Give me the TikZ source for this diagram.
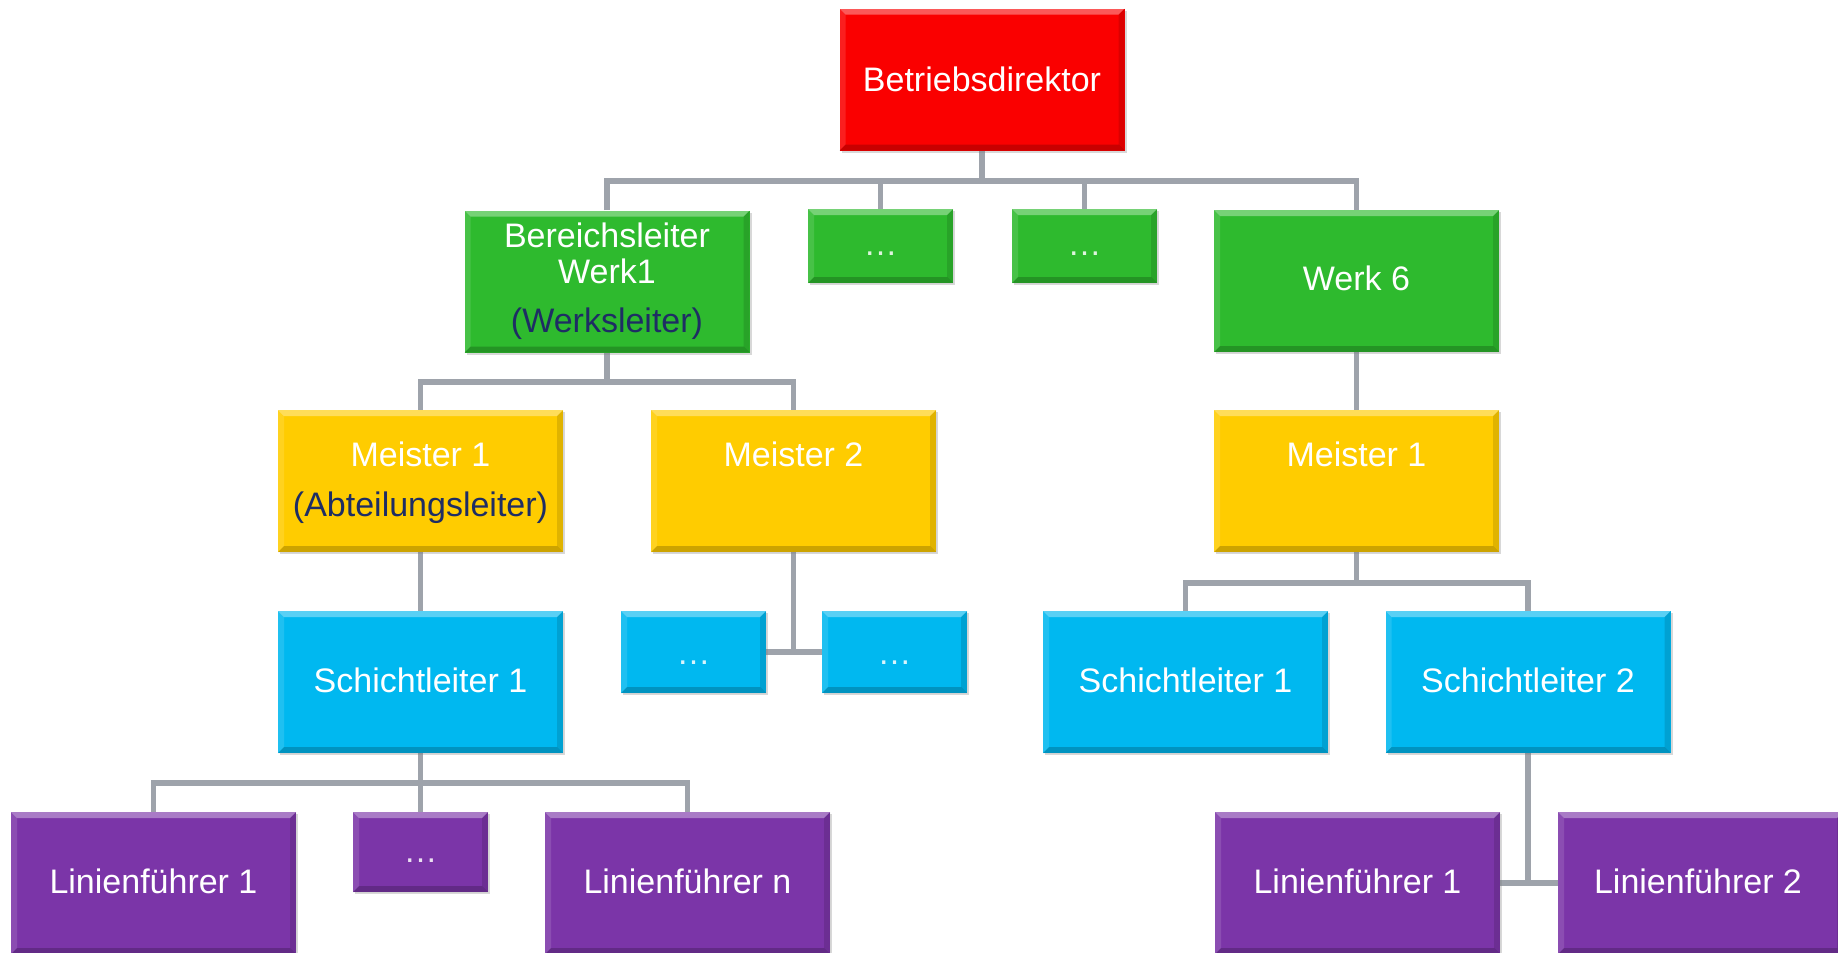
\documentclass[tikz,border=0pt]{standalone}
\usepackage{fontspec}
\setmainfont{Liberation Sans}
\usetikzlibrary{backgrounds,shadows}
\definecolor{cred}{RGB}{250,0,0}
\definecolor{cgreen}{RGB}{46,186,46}
\definecolor{cyellow}{RGB}{255,204,0}
\definecolor{cblue}{RGB}{0,184,240}
\definecolor{cpurple}{RGB}{123,53,168}
\definecolor{cnavy}{RGB}{30,45,100}
\definecolor{cline}{RGB}{158,163,171}
\newcommand\bevelbox{%
  \fill[white,opacity=0.35] (path picture bounding box.north west) -- (path picture bounding box.north east)
     -- ([shift={(-3pt,-3pt)}]path picture bounding box.north east) -- ([shift={(3pt,-3pt)}]path picture bounding box.north west) -- cycle;
  \fill[white,opacity=0.12] (path picture bounding box.north west) -- (path picture bounding box.south west)
     -- ([shift={(3pt,3pt)}]path picture bounding box.south west) -- ([shift={(3pt,-3pt)}]path picture bounding box.north west) -- cycle;
  \fill[black,opacity=0.12] (path picture bounding box.north east) -- (path picture bounding box.south east)
     -- ([shift={(-3pt,3pt)}]path picture bounding box.south east) -- ([shift={(-3pt,-3pt)}]path picture bounding box.north east) -- cycle;
  \fill[black,opacity=0.2] (path picture bounding box.south west) -- (path picture bounding box.south east)
     -- ([shift={(-3pt,3pt)}]path picture bounding box.south east) -- ([shift={(3pt,3pt)}]path picture bounding box.south west) -- cycle;
}
\tikzset{
  box/.style={fill=#1, draw=none, inner sep=0pt, minimum width=142.5pt, minimum height=71pt,
    drop shadow={shadow xshift=1pt, shadow yshift=-1.2pt, opacity=0.3}, path picture={\bevelbox}},
  gsmall/.style={minimum width=72.5pt, minimum height=37pt},
  bsmall/.style={minimum width=72.5pt, minimum height=41pt},
  psmall/.style={minimum width=67.5pt, minimum height=40pt},
  txt/.style={text=white, font=\fontsize{17}{20}\selectfont, inner sep=0pt, anchor=base},
  dots/.style={txt, text opacity=0.85},
  conn/.style={draw=cline, line width=2.8pt}
}
\begin{document}
\begin{tikzpicture}[x=0.5pt,y=-0.5pt]
\path[use as bounding box] (0,0) rectangle (1838,953);
% boxes
\node[box=cred] (bd) at (982,79.5) {};
\node[box=cgreen] (bl) at (607,281.5) {};
\node[box=cgreen, gsmall] (g1) at (880.5,246) {};
\node[box=cgreen, gsmall] (g2) at (1084.5,246) {};
\node[box=cgreen] (w6) at (1356.5,281) {};
\node[box=cyellow] (m1) at (420.5,481) {};
\node[box=cyellow] (m2) at (793.5,481) {};
\node[box=cyellow] (m1r) at (1356.5,481) {};
\node[box=cblue] (s1) at (420.5,682) {};
\node[box=cblue, bsmall] (b1) at (693.5,652) {};
\node[box=cblue, bsmall] (b2) at (894.5,652) {};
\node[box=cblue] (s1r) at (1185.5,682) {};
\node[box=cblue] (s2r) at (1528,682) {};
\node[box=cpurple] (l1) at (153.5,883) {};
\node[box=cpurple, psmall] (ld) at (420.5,852) {};
\node[box=cpurple] (ln) at (687.5,883) {};
\node[box=cpurple] (l1r) at (1357.5,883) {};
\node[box=cpurple] (l2r) at (1700.5,883) {};
% texts
\node[txt] (t-bd) at (982,91) {Betriebsdirektor};
\node[txt] (t-bl1) at (607,247) {Bereichsleiter};
\node[txt] (t-bl2) at (607,283) {Werk1};
\node[txt, text=cnavy] (t-bl3) at (607,332) {(Werksleiter)};
\node[dots] (t-g1) at (880.5,255) {…};
\node[dots] (t-g2) at (1084.5,255) {…};
\node[txt] (t-w6) at (1356.5,290) {Werk 6};
\node[txt] (t-m1) at (420.5,466) {Meister 1};
\node[txt, text=cnavy] (t-m1b) at (420.5,516) {(Abteilungsleiter)};
\node[txt] (t-m2) at (793.5,466) {Meister 2};
\node[txt] (t-m1r) at (1356.5,466) {Meister 1};
\node[txt] (t-s1) at (420.5,692) {Schichtleiter 1};
\node[dots] (t-b1) at (693.5,664) {…};
\node[dots] (t-b2) at (894.5,664) {…};
\node[txt] (t-s1r) at (1185.5,692) {Schichtleiter 1};
\node[txt] (t-s2r) at (1528,692) {Schichtleiter 2};
\node[txt] (t-l1) at (153.5,893) {Linienführer 1};
\node[dots] (t-ld) at (420.5,862) {…};
\node[txt] (t-ln) at (687.5,893) {Linienführer n};
\node[txt] (t-l1r) at (1357.5,893) {Linienführer 1};
\node[txt] (t-l2r) at (1698,893) {Linienführer 2};
% connectors
\coordinate (busA) at (982,181);
\coordinate (busB) at (607,382);
\coordinate (busC) at (793.5,652);
\coordinate (busD) at (1356.5,583);
\coordinate (busE) at (420.5,783);
\coordinate (busF) at (1528,883);
\begin{scope}[on background layer]
\fill[white] (0,0) rectangle (1838,953);
\draw[conn] (bd.south) -- (busA);
\draw[conn] (bl.north) |- (busA) -| (w6.north);
\draw[conn] (g1.north) -- (g1.north |- busA);
\draw[conn] (g2.north) -- (g2.north |- busA);
\draw[conn] (bl.south) -- (busB);
\draw[conn] (m1.north) |- (busB) -| (m2.north);
\draw[conn] (m1.south) -- (s1.north);
\draw[conn] (m2.south) -- (busC);
\draw[conn] (b1.east) -- (b2.west);
\draw[conn] (w6.south) -- (m1r.north);
\draw[conn] (m1r.south) -- (busD);
\draw[conn] (s1r.north) |- (busD) -| (s2r.north);
\draw[conn] (s1.south) -- (busE);
\draw[conn] (l1.north) |- (busE) -| (ln.north);
\draw[conn] (ld.north) -- (busE);
\draw[conn] (s2r.south) -- (busF);
\draw[conn] (l1r.east) -- (l2r.west);
\end{scope}
\end{tikzpicture}
\end{document}
